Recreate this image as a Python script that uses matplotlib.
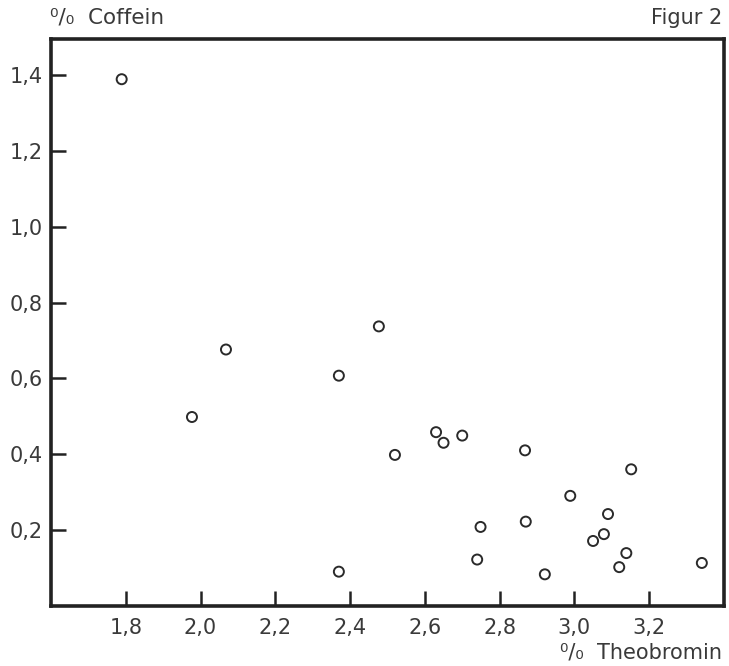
import matplotlib
matplotlib.use("Agg")
import matplotlib.pyplot as plt

plt.rcParams['font.family'] = ['DejaVu Sans']

theobromin = [1.789, 1.977, 2.068, 2.370, 2.370, 2.477, 2.520, 2.630, 2.650, 2.700,
              2.868, 2.870, 2.740, 2.749, 2.921, 2.989, 3.152, 3.090, 3.079, 3.050,
              3.139, 3.120, 3.341]
coffein = [1.389, 0.498, 0.676, 0.607, 0.090, 0.737, 0.398, 0.458, 0.430, 0.449,
           0.410, 0.222, 0.122, 0.208, 0.083, 0.290, 0.360, 0.242, 0.189, 0.171,
           0.139, 0.102, 0.113]

xticks = [1.8, 2.0, 2.2, 2.4, 2.6, 2.8, 3.0, 3.2]
xticklabels = ["1,8", "2,0", "2,2", "2,4", "2,6", "2,8", "3,0", "3,2"]
yticks = [0.2, 0.4, 0.6, 0.8, 1.0, 1.2, 1.4]
yticklabels = ["0,2", "0,4", "0,6", "0,8", "1,0", "1,2", "1,4"]

fig = plt.figure(figsize=(7.29, 6.66), dpi=100)
ax = fig.add_axes([0.070, 0.0904, 0.923, 0.851])
ax.scatter(theobromin, coffein, s=52, facecolors='none', edgecolors='#2a2a2a', linewidths=1.4, zorder=3)

ax.set_xlim(1.6, 3.4)
ax.set_ylim(0, 1.495)
ax.set_xticks(xticks)
ax.set_xticklabels(xticklabels)
ax.set_yticks(yticks)
ax.set_yticklabels(yticklabels)
ax.tick_params(direction='in', length=11, width=1.8, color='#222222', labelsize=15,
               labelcolor='#3a3a3a')
ax.tick_params(axis='x', pad=9)
ax.tick_params(axis='y', pad=6)
for sp in ax.spines.values():
    sp.set_linewidth(2.6)
    sp.set_color('#222222')

fig.text(0.068, 0.988, "⁰/₀  Coffein", ha='left', va='top', fontsize=15.5, color='#3a3a3a')
fig.text(0.991, 0.988, "Figur 2", ha='right', va='top', fontsize=15, color='#3a3a3a')
fig.text(0.991, 0.006, "⁰/₀  Theobromin", ha='right', va='bottom', fontsize=15, color='#3a3a3a')

fig.savefig("out.png", dpi=100)
